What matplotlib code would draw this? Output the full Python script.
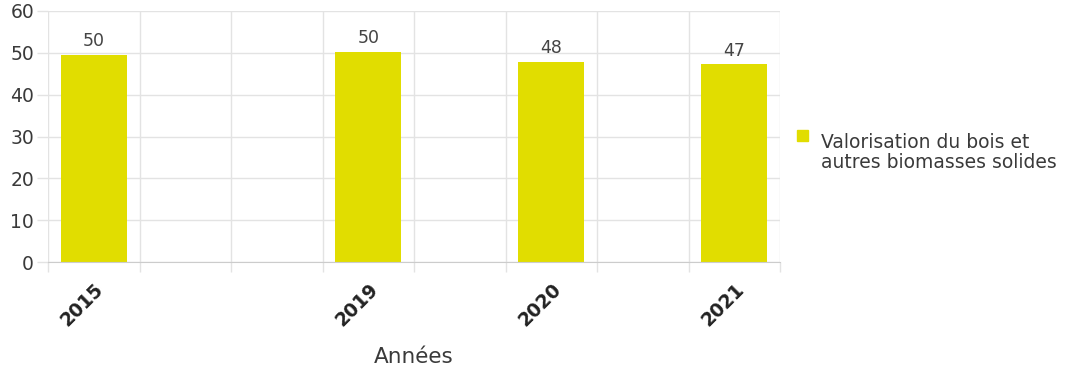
import numpy as np
import matplotlib.pyplot as plt
from matplotlib.patches import Rectangle
from matplotlib.ticker import MultipleLocator

# categories on the x axis (blank slots have no data)
years = ["2015", "", "", "2019", "", "2020", "", "2021"]
values = [49.6, np.nan, np.nan, 50.2, np.nan, 47.8, np.nan, 47.3]
series_name = "Valorisation du bois et\nautres biomasses solides"
x_title = "Années"

bar_color = "#e1dd00"
grid_color = "#e3e3e3"
text_color = "#3a3a3a"

plt.rcParams['font.family'] = ['DejaVu Sans']

fig = plt.figure(figsize=(10.68, 3.75), dpi=100)
ax = fig.add_axes([48 / 1068, 113 / 375, 732 / 1068, 251 / 375])

x = np.arange(len(years))
bars = ax.bar(x, values, width=0.72, color=bar_color, zorder=3)

# value labels above bars
for xi, v in zip(x, values):
    if np.isnan(v):
        continue
    ax.text(xi, v + 1.1, f"{v:.0f}", ha="center", va="bottom",
            fontsize=12.5, color="#444444")

ax.set_xlim(-0.5, len(years) - 0.5)
ax.set_ylim(0, 60)
ax.yaxis.set_major_locator(MultipleLocator(10))

ax.set_xticks(x)
ax.set_xticklabels(years, rotation=45, ha="right", rotation_mode="anchor",
                   fontsize=13.5, fontweight="bold", color="#222222")
ax.tick_params(axis="x", which="major", length=0, pad=13)
ax.set_xticks(np.arange(-0.5, len(years), 1), minor=True)
ax.tick_params(axis="x", which="minor", length=7, color=grid_color, width=1)
ax.tick_params(axis="y", length=8, color=grid_color, width=1,
               labelsize=13.5, labelcolor=text_color, pad=2)

ax.grid(axis="y", color=grid_color, linewidth=1, zorder=0)
ax.grid(axis="x", which="minor", color=grid_color, linewidth=1, zorder=0)

for s in ["top", "right", "left"]:
    ax.spines[s].set_visible(False)
ax.spines["bottom"].set_color("#cccccc")
ax.spines["bottom"].set_zorder(4)

ax.set_xlabel(x_title, fontsize=15.5, color=text_color, labelpad=12)

# legend: square swatch next to the first line of the series name
fig.add_artist(Rectangle((797 / 1068, 1 - 141 / 375), 11 / 1068, 11 / 375,
                         transform=fig.transFigure, color=bar_color))
fig.text(821 / 1068, 1 - 133 / 375, series_name, ha="left", va="top",
         fontsize=13.5, color=text_color, linespacing=1.05)

fig.savefig("out.png", dpi=100, facecolor="white")
